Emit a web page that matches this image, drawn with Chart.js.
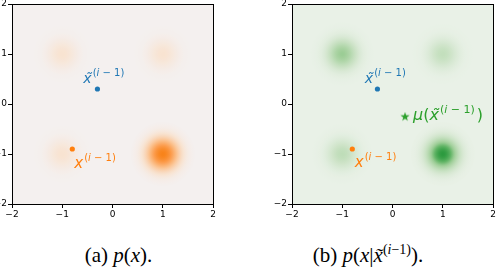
<!DOCTYPE html>
<html>
<head>
<meta charset="utf-8">
<script src="https://cdn.jsdelivr.net/npm/chart.js@4.4.1/dist/chart.umd.min.js"></script>
<style>
  body { margin: 0; width: 496px; height: 272px; position: relative; overflow: hidden; background: #fff; }
  .panel { position: absolute; top: -10px; }
  .cap { position: absolute; top: 243px; text-align: center; font-family: "Liberation Serif", "Noto Serif", "Nimbus Roman", "Nimbus Roman No9 L", FreeSerif, Tinos, "Times New Roman", "DejaVu Serif", serif; font-size: 21px; line-height: 24px; color: #000; white-space: nowrap; }
  .cap sup { font-size: 14px; vertical-align: 8px; line-height: 0; }
</style>
</head>
<body>
<canvas id="izq" class="panel" width="260" height="240" style="left:-32px"></canvas>
<canvas id="der" class="panel" width="260" height="240" style="left:248px"></canvas>
<div class="cap" style="left:0;width:237px">(a) <i>p</i>(<i>x</i>).</div>
<div class="cap" style="left:248px;width:240px">(b) <i>p</i>(<i>x</i>|<i>x&#771;</i><sup>(<i>i</i>−1)</sup>).</div>
<script>
// valores de la figura
var tickValues = [-2, -1, 0, 1, 2];

// componentes de la mezcla (centro, ancho, intensidad en cada panel)
var blobX = [-1, 1, -1, 1];
var blobY = [1, 1, -1, -1];
var blobSpread = [0.2, 0.2, 0.2, 0.2];
var densityLeft = [0.12, 0.12, 0.12, 1.0];
var densityRight = [0.52, 0.27, 0.3, 1.0];

// puntos
var prevX = [-0.8], prevY = [-0.9];     // x^(i-1)
var tildeX = [-0.3], tildeY = [0.3];    // x~^(i-1)
var muX = [0.25], muY = [-0.25];        // mu(x~^(i-1))

var AZUL = '#1f77b4', NARANJA = '#ff7f0e', VERDE = '#2ca02c';

var mapaNaranja = [[0, '#f4f0ef'], [0.12, '#f8e3d1'], [0.4, '#fbc08c'], [0.7, '#fc9c4c'], [1, '#f8831a']];
var mapaVerde = [[0, '#e9f1e7'], [0.25, '#c6e0c0'], [0.5, '#a0cf99'], [0.75, '#5db262'], [1, '#2b9a3e']];

function hexRgb(h) {
    return [parseInt(h.substr(1, 2), 16), parseInt(h.substr(3, 2), 16), parseInt(h.substr(5, 2), 16)];
}

function colorMapa(mapa, d) {
    d = Math.max(0, Math.min(1, d));
    for (var k = 1; k < mapa.length; k++) {
        if (d <= mapa[k][0]) {
            var a = hexRgb(mapa[k - 1][1]), b = hexRgb(mapa[k][1]);
            var t = (d - mapa[k - 1][0]) / (mapa[k][0] - mapa[k - 1][0]);
            return 'rgb(' + Math.round(a[0] + (b[0] - a[0]) * t) + ',' + Math.round(a[1] + (b[1] - a[1]) * t) + ',' + Math.round(a[2] + (b[2] - a[2]) * t) + ')';
        }
    }
    return mapa[mapa.length - 1][1];
}

function sigmaPx(chart, i) {
    var xs = chart.scales.x;
    if (!xs) return 0;
    var s = Math.abs(xs.getPixelForValue(blobSpread[i]) - xs.getPixelForValue(0));
    return isFinite(s) ? s : 0;
}

// relleno radial de cada mancha
function rellenoMancha(mapa, picos) {
    return function (c) {
        var chart = c.chart;
        if (c.type !== 'data' || !chart.scales.x || !chart.scales.y) return 'rgba(0,0,0,0)';
        var i = c.dataIndex;
        var cx = chart.scales.x.getPixelForValue(blobX[i]);
        var cy = chart.scales.y.getPixelForValue(blobY[i]);
        var R = 3.2 * sigmaPx(chart, i);
        if (!isFinite(cx) || !isFinite(cy) || !(R > 0)) return 'rgba(0,0,0,0)';
        var g = chart.ctx.createRadialGradient(cx, cy, 0, cx, cy, R);
        for (var k = 0; k <= 20; k++) {
            var t = k / 20;
            g.addColorStop(t, colorMapa(mapa, picos[i] * Math.exp(-Math.pow(t * 3.2, 2) / 2)));
        }
        return g;
    };
}

// estrella rellena para mu
var estrella = document.createElement('canvas');
estrella.width = 10; estrella.height = 10;
(function () {
    var g = estrella.getContext('2d');
    g.beginPath();
    for (var k = 0; k < 10; k++) {
        var r = k % 2 === 0 ? 4.8 : 1.9;
        var a = -Math.PI / 2 + k * Math.PI / 5;
        g.lineTo(5 + r * Math.cos(a), 5.3 + r * Math.sin(a));
    }
    g.closePath();
    g.fillStyle = VERDE;
    g.fill();
})();

function dibujarMate(ctx, px, py, color, partes) {
    var cx = px;
    ctx.fillStyle = color;
    ctx.textBaseline = 'alphabetic';
    partes.forEach(function (p) {
        var tam = p.sup ? (p.tam || 10) : (p.tam || 14);
        ctx.font = (p.it ? 'italic ' : '') + tam + 'px "DejaVu Sans"';
        var y = p.sup ? py - 7 : py;
        ctx.textAlign = 'left';
        ctx.fillText(p.t, cx, y);
        var w = ctx.measureText(p.t).width;
        if (p.tilde) {
            ctx.textAlign = 'center';
            ctx.fillText('\u02dc', cx + w / 2 + 1, y);
        }
        cx += w + (p.gap || 0);
    });
}

var supIndice = [{ t: '(', sup: true }, { t: 'i', sup: true, it: true }, { t: ' \u2212 1)', sup: true }];
var supGrande = [{ t: '(', sup: true, tam: 11 }, { t: 'i', sup: true, it: true, tam: 11 }, { t: ' \u2212 1)', sup: true, tam: 11, gap: 2 }];

var etiquetasIzq = [
    { x: -0.58, y: 0.42, color: AZUL, partes: [{ t: 'x', it: true, tilde: true, gap: 1 }].concat(supIndice) },
    { x: -0.76, y: -1.28, color: NARANJA, partes: [{ t: 'x', it: true, gap: 1, tam: 15 }].concat(supIndice) }
];
var etiquetasDer = [
    { x: -0.55, y: 0.42, color: AZUL, partes: [{ t: 'x', it: true, tilde: true, gap: 1 }].concat(supIndice) },
    { x: -0.75, y: -1.26, color: NARANJA, partes: [{ t: 'x', it: true, gap: 1, tam: 15 }].concat(supIndice) },
    { x: 0.41, y: -0.32, color: VERDE, partes: [{ t: '\u03bc', it: true, tam: 16 }, { t: '(', tam: 16 }, { t: 'x', it: true, tilde: true, tam: 16, gap: 1 }].concat(supGrande).concat([{ t: ')', tam: 16 }]) }
];

var pluginMarco = {
    id: 'marco',
    beforeDatasetsDraw: function (chart, args, opts) {
        var a = chart.chartArea, ctx = chart.ctx;
        ctx.save();
        ctx.fillStyle = opts.fondo;
        ctx.fillRect(a.left, a.top, a.right - a.left, a.bottom - a.top);
        ctx.restore();
    },
    afterDatasetsDraw: function (chart, args, opts) {
        var a = chart.chartArea, ctx = chart.ctx;
        ctx.save();
        ctx.strokeStyle = '#000';
        ctx.lineWidth = 1;
        ctx.strokeRect(Math.round(a.left) + 0.5, Math.round(a.top) + 0.5, Math.round(a.right - a.left), Math.round(a.bottom - a.top));
        opts.etiquetas.forEach(function (e) {
            dibujarMate(ctx, chart.scales.x.getPixelForValue(e.x), chart.scales.y.getPixelForValue(e.y), e.color, e.partes);
        });
        ctx.restore();
    }
};

function ejeLineal(esY) {
    return {
        type: 'linear',
        min: -2, max: 2,
        afterBuildTicks: function (s) { s.ticks = tickValues.map(function (v) { return { value: v }; }); },
        afterFit: function (s) { if (esY) s.width = 44; else s.height = 20; },
        grid: { display: true, drawOnChartArea: false, drawTicks: true, tickLength: 4, color: '#000', lineWidth: 1 },
        border: { display: false },
        ticks: {
            color: '#000', padding: 1,
            font: { family: 'DejaVu Sans', size: 9 },
            callback: function (v) { return String(v).replace('-', '\u2212'); }
        }
    };
}

function crearPanel(id, mapa, picos, fondo, etiquetas, conMu) {
    var datasets = [
        { type: 'scatter', data: tildeX.map(function (v, i) { return { x: v, y: tildeY[i] }; }), backgroundColor: AZUL, borderWidth: 0, pointRadius: 2.6, order: 0 },
        { type: 'scatter', data: prevX.map(function (v, i) { return { x: v, y: prevY[i] }; }), backgroundColor: NARANJA, borderWidth: 0, pointRadius: 2.6, order: 0 }
    ];
    if (conMu) {
        datasets.push({ type: 'scatter', data: muX.map(function (v, i) { return { x: v, y: muY[i] }; }), pointStyle: estrella, pointRadius: 5, order: 0 });
    }
    // manchas de densidad como puntos grandes con relleno radial
    datasets.push({
        type: 'scatter',
        data: blobX.map(function (v, i) { return { x: v, y: blobY[i] }; }),
        pointBackgroundColor: rellenoMancha(mapa, picos),
        pointBorderWidth: 0,
        pointRadius: function (c) { return 3.2 * sigmaPx(c.chart, c.dataIndex); },
        order: 5
    });
    new Chart(document.getElementById(id), {
        type: 'scatter',
        data: { datasets: datasets },
        options: {
            responsive: false,
            animation: false,
            events: [],
            layout: { padding: { top: 14, right: 15, bottom: 6, left: 0 }, autoPadding: false },
            plugins: { legend: { display: false }, tooltip: { enabled: false }, marco: { fondo: fondo, etiquetas: etiquetas } },
            scales: { x: ejeLineal(false), y: ejeLineal(true) }
        },
        plugins: [pluginMarco]
    });
}

crearPanel('izq', mapaNaranja, densityLeft, '#f4f0ef', etiquetasIzq, false);
crearPanel('der', mapaVerde, densityRight, '#e9f1e7', etiquetasDer, true);
</script>
</body>
</html>
